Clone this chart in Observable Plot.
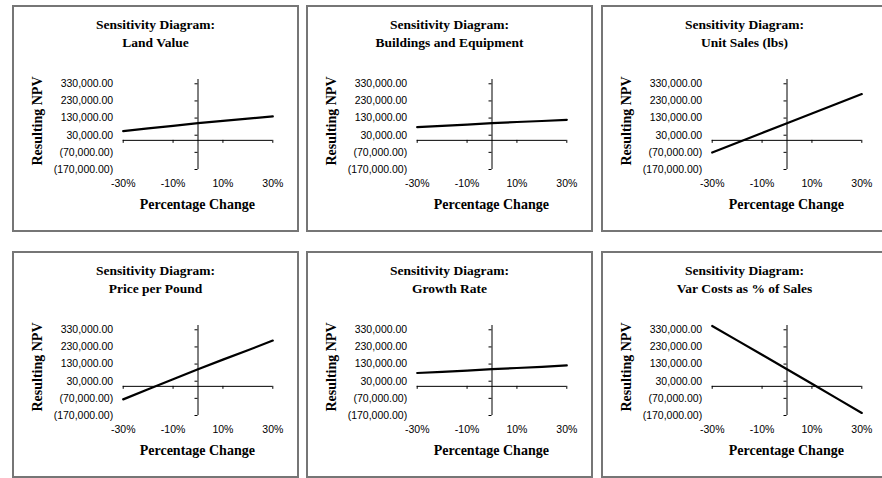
<!DOCTYPE html>
<html><head><meta charset="utf-8">
<script src="https://cdn.jsdelivr.net/npm/d3@7"></script>
<script src="https://cdn.jsdelivr.net/npm/@observablehq/plot@0.6"></script>
<style>
html,body{margin:0;padding:0;background:#fff;width:882px;height:478px;overflow:hidden;position:relative}
.panel{position:absolute;width:287px;height:227px}
.frame{position:absolute;left:0;top:0;right:0;bottom:0;box-sizing:border-box;border:2px solid #767676}
.panel svg{position:absolute;left:0;top:0}
.t{position:absolute;font-family:"Liberation Serif","Times New Roman",serif;font-weight:bold;color:#000;white-space:nowrap}
.title{left:0;width:287px;top:11px;text-align:center;font-size:13.5px;line-height:18px}
.xlab{left:185.3px;top:200px;font-size:14px;line-height:1;transform:translate(-50%,-50%)}
.ylab{left:26.3px;top:116px;font-size:14px;line-height:1;transform:translate(-50%,-50%) rotate(-90deg)}
</style></head><body>
<script>
// Percentage change in each input
const pctChange = [-30, -20, -10, 0, 10, 20, 30];
const titles = ["Land Value", "Buildings and Equipment", "Unit Sales (lbs)",
                "Price per Pound", "Growth Rate", "Var Costs as % of Sales"];
// Resulting NPV for each sensitivity series
const landValue     = [54000, 70000, 85000, 100000, 114000, 127000, 140000];
const buildings     = [77000, 85000, 92000, 100000, 107000, 113000, 120000];
const unitSales     = [-71000, -14000, 43000, 100000, 157000, 213000, 270000];
const pricePerPound = [-76000, -17000, 41000, 100000, 156000, 211000, 267000];
const growthRate    = [78000, 85000, 92000, 100000, 107000, 114000, 122000];
const varCosts      = [352000, 268000, 184000, 100000, 15000, -70000, -155000];
const seriesList = [landValue, buildings, unitSales, pricePerPound, growthRate, varCosts];
// Axis ticks
const yTicks = [-170000, -70000, 30000, 130000, 230000, 330000];
const xTicks = [-30, -10, 10, 30];

const num = d3.format(",.2f");
const fmtY = v => v < 0 ? "(" + num(-v) + ")" : num(v);
const fmtX = v => v + "%";

const lefts = [12, 306, 601];
const tops = [5, 250.5];

seriesList.forEach((vals, i) => {
  const data = pctChange.map((p, j) => ({pct: p, npv: vals[j]}));
  const panel = document.createElement("div");
  panel.className = "panel";
  panel.style.left = lefts[i % 3] + "px";
  panel.style.top = tops[Math.floor(i / 3)] + "px";
  const frame = document.createElement("div");
  frame.className = "frame";
  panel.appendChild(frame);

  const chart = Plot.plot({
    width: 287, height: 227,
    marginLeft: 110.7, marginRight: 26.7, marginTop: 74, marginBottom: 63,
    style: {fontFamily: '"Liberation Sans", Arial, sans-serif', fontSize: "10.5px", color: "#000", background: "transparent"},
    x: {domain: [-30, 30], ticks: xTicks, tickFormat: fmtX, tickSize: 0, tickPadding: 10, label: null},
    y: {domain: [-170000, 355000], ticks: yTicks, tickFormat: fmtY, tickSize: 0, tickPadding: 10, label: null},
    marks: [
      Plot.ruleY([0], {x1: -30, x2: 30, stroke: "#000", strokeWidth: 1}),
      Plot.ruleX([0], {y1: -170000, y2: 355000, stroke: "#000", strokeWidth: 1}),
      Plot.ruleX(xTicks, {x: d => d, y1: 0, y2: 0, insetBottom: -3, stroke: "#000"}),
      Plot.ruleY(yTicks, {y: d => d, x1: 0, x2: 0, insetLeft: -3, stroke: "#000"}),
      Plot.line(data, {x: "pct", y: "npv", stroke: "#000", strokeWidth: 2.2})
    ]
  });
  panel.appendChild(chart);

  const title = document.createElement("div");
  title.className = "t title";
  title.innerHTML = "Sensitivity Diagram:<br>" + titles[i].replace(/&/g, "&amp;");
  panel.appendChild(title);

  const xl = document.createElement("div");
  xl.className = "t xlab";
  xl.textContent = "Percentage Change";
  panel.appendChild(xl);

  const yl = document.createElement("div");
  yl.className = "t ylab";
  yl.textContent = "Resulting NPV";
  panel.appendChild(yl);

  document.body.appendChild(panel);
});
</script>
</body></html>
